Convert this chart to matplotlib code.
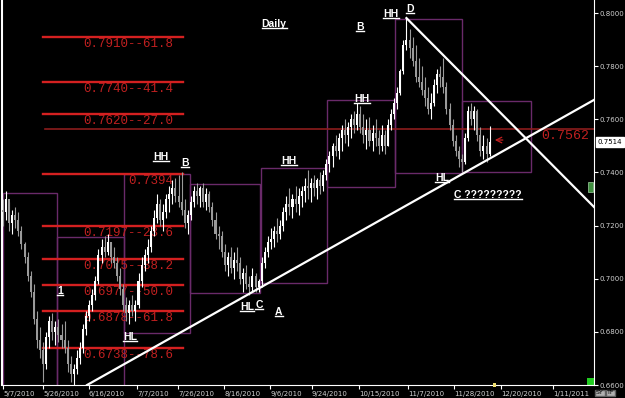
import matplotlib
matplotlib.use('Agg')
import matplotlib.pyplot as plt
from matplotlib.patches import Rectangle
from matplotlib.lines import Line2D
from matplotlib.transforms import IdentityTransform, blended_transform_factory

# ---------------- data (daily bars, index = trading day) ----------------
first_open = 0.7260
highs = [0.7300, 0.7330, 0.7290, 0.7260, 0.7270, 0.7250, 0.7200, 0.7140, 0.7100, 0.7030,
         0.6980, 0.6880, 0.6820, 0.6760, 0.6800, 0.6860, 0.6870, 0.6840, 0.6850, 0.6830,
         0.6840, 0.6770, 0.6710, 0.6680, 0.6730, 0.6760, 0.6830, 0.6880, 0.6920, 0.6960,
         0.7010, 0.7110, 0.7150, 0.7160, 0.7170, 0.7140, 0.7120, 0.7080, 0.7040, 0.6980,
         0.6930, 0.6920, 0.6940, 0.6920, 0.7020, 0.7080, 0.7110, 0.7150, 0.7200, 0.7260,
         0.7320, 0.7300, 0.7280, 0.7320, 0.7350, 0.7370, 0.7380, 0.7390, 0.7400, 0.7300,
         0.7260, 0.7310, 0.7350, 0.7360, 0.7350, 0.7360, 0.7340, 0.7330, 0.7290, 0.7250,
         0.7200, 0.7180, 0.7130, 0.7100, 0.7120, 0.7100, 0.7120, 0.7080, 0.7040, 0.7050,
         0.7010, 0.7040, 0.7020, 0.7000, 0.7080, 0.7120, 0.7160, 0.7190, 0.7200, 0.7230,
         0.7220, 0.7270, 0.7310, 0.7340, 0.7320, 0.7350, 0.7340, 0.7350, 0.7380, 0.7410,
         0.7380, 0.7390, 0.7380, 0.7400, 0.7410, 0.7450, 0.7480, 0.7510, 0.7540, 0.7550,
         0.7580, 0.7600, 0.7590, 0.7620, 0.7630, 0.7660, 0.7650, 0.7620, 0.7600, 0.7610,
         0.7580, 0.7600, 0.7560, 0.7580, 0.7560, 0.7600, 0.7640, 0.7680, 0.7720, 0.7790,
         0.7900, 0.7981, 0.7940, 0.7910, 0.7880, 0.7830, 0.7800, 0.7760, 0.7720, 0.7700,
         0.7750, 0.7790, 0.7800, 0.7830, 0.7740, 0.7660, 0.7600, 0.7540, 0.7500, 0.7470,
         0.7550, 0.7650, 0.7660, 0.7650, 0.7640, 0.7570, 0.7540, 0.7530, 0.7575]
lows = [0.7200, 0.7220, 0.7180, 0.7170, 0.7190, 0.7160, 0.7110, 0.7060, 0.6990, 0.6930,
        0.6830, 0.6740, 0.6700, 0.6610, 0.6660, 0.6740, 0.6770, 0.6750, 0.6760, 0.6740,
        0.6720, 0.6650, 0.6610, 0.6600, 0.6640, 0.6680, 0.6720, 0.6790, 0.6840, 0.6880,
        0.6920, 0.6980, 0.7060, 0.7080, 0.7090, 0.7060, 0.7040, 0.6990, 0.6940, 0.6880,
        0.6840, 0.6830, 0.6860, 0.6840, 0.6890, 0.6970, 0.7030, 0.7060, 0.7100, 0.7160,
        0.7210, 0.7200, 0.7180, 0.7230, 0.7250, 0.7280, 0.7290, 0.7270, 0.7240, 0.7190,
        0.7170, 0.7220, 0.7270, 0.7280, 0.7270, 0.7270, 0.7260, 0.7250, 0.7200, 0.7150,
        0.7110, 0.7080, 0.7030, 0.7010, 0.7020, 0.7000, 0.7030, 0.6980, 0.6950, 0.6960,
        0.6940, 0.6950, 0.6950, 0.6950, 0.6970, 0.7040, 0.7080, 0.7110, 0.7120, 0.7140,
        0.7150, 0.7180, 0.7220, 0.7240, 0.7230, 0.7250, 0.7240, 0.7270, 0.7290, 0.7300,
        0.7290, 0.7310, 0.7300, 0.7320, 0.7330, 0.7370, 0.7400, 0.7420, 0.7460, 0.7450,
        0.7480, 0.7510, 0.7500, 0.7530, 0.7550, 0.7560, 0.7550, 0.7510, 0.7490, 0.7500,
        0.7480, 0.7500, 0.7470, 0.7480, 0.7470, 0.7500, 0.7560, 0.7600, 0.7640, 0.7690,
        0.7770, 0.7860, 0.7830, 0.7800, 0.7740, 0.7720, 0.7690, 0.7650, 0.7620, 0.7600,
        0.7650, 0.7700, 0.7720, 0.7700, 0.7620, 0.7560, 0.7500, 0.7460, 0.7420, 0.7402,
        0.7430, 0.7520, 0.7580, 0.7560, 0.7520, 0.7460, 0.7450, 0.7440, 0.7460]
closes = [0.7250, 0.7300, 0.7210, 0.7240, 0.7220, 0.7180, 0.7130, 0.7080, 0.7010, 0.6950,
          0.6850, 0.6770, 0.6730, 0.6680, 0.6780, 0.6840, 0.6800, 0.6820, 0.6790, 0.6770,
          0.6740, 0.6680, 0.6640, 0.6660, 0.6700, 0.6740, 0.6810, 0.6860, 0.6900, 0.6940,
          0.6990, 0.7090, 0.7120, 0.7100, 0.7140, 0.7080, 0.7060, 0.7010, 0.6960, 0.6900,
          0.6870, 0.6900, 0.6880, 0.6900, 0.6990, 0.7050, 0.7090, 0.7120, 0.7180, 0.7230,
          0.7280, 0.7220, 0.7250, 0.7300, 0.7320, 0.7340, 0.7310, 0.7290, 0.7260, 0.7210,
          0.7240, 0.7290, 0.7330, 0.7310, 0.7340, 0.7290, 0.7320, 0.7270, 0.7220, 0.7170,
          0.7160, 0.7100, 0.7050, 0.7080, 0.7040, 0.7070, 0.7060, 0.7000, 0.7020, 0.6980,
          0.6970, 0.7010, 0.6970, 0.6990, 0.7060, 0.7100, 0.7140, 0.7150, 0.7180, 0.7170,
          0.7200, 0.7250, 0.7280, 0.7270, 0.7300, 0.7280, 0.7310, 0.7330, 0.7350, 0.7340,
          0.7360, 0.7340, 0.7370, 0.7350, 0.7390, 0.7430, 0.7460, 0.7500, 0.7480, 0.7530,
          0.7560, 0.7540, 0.7570, 0.7600, 0.7580, 0.7620, 0.7570, 0.7540, 0.7560, 0.7520,
          0.7550, 0.7530, 0.7500, 0.7540, 0.7500, 0.7580, 0.7620, 0.7660, 0.7700, 0.7780,
          0.7880, 0.7900, 0.7870, 0.7820, 0.7760, 0.7740, 0.7710, 0.7680, 0.7640, 0.7660,
          0.7730, 0.7770, 0.7760, 0.7720, 0.7640, 0.7580, 0.7520, 0.7480, 0.7450, 0.7440,
          0.7530, 0.7630, 0.7600, 0.7630, 0.7540, 0.7480, 0.7500, 0.7470, 0.7514]
last_price = 0.7514

tick_pos = [0, 13, 27.9, 43.5, 56.8, 71.8, 86.7, 100.3, 115.6, 131.5, 146.4, 161.7, 178.6]
tick_labels = ['5/7/2010', '5/26/2010', '6/16/2010', '7/7/2010', '7/26/2010', '8/16/2010',
               '9/6/2010', '9/24/2010', '10/15/2010', '11/7/2010', '11/28/2010',
               '12/20/2010', '1/11/2011']
y_ticks = [0.66, 0.68, 0.70, 0.72, 0.74, 0.76, 0.78, 0.80]

fib_levels = [0.7910, 0.7740, 0.7620, 0.7394, 0.7197, 0.7075, 0.6977, 0.6878, 0.6738]
fib_labels = ['0.7910--61.8', '0.7740--41.4', '0.7620--27.0', '0.7394', '0.7197--23.6',
              '0.7075--38.2', '0.6977--50.0', '0.6878--61.8', '0.6738--78.6']
key_level = 0.7562

# range boxes: (start idx, end idx, low, high)
box_start = [0.0, 17.5, 39.3, 60.7, 83.8, 105.2, 127.3, 149.0]
box_end = [17.5, 39.3, 60.7, 83.4, 105.2, 127.3, 149.0, 171.4]
box_low = [0.6595, 0.6595, 0.6796, 0.6946, 0.6984, 0.7345, 0.7398, 0.7402]
box_high = [0.7323, 0.7157, 0.7394, 0.7357, 0.7417, 0.7673, 0.7978, 0.7669]

# trend lines (idx, price) anchors
up_x = [27.3, 191.9]
up_y = [0.6600, 0.7673]
down_x = [131.0, 191.9]
down_y = [0.7981, 0.7270]

notes = [('Daily', 88.0, 0.7959), ('B', 115.9, 0.7948), ('HH', 126.0, 0.7996),
         ('D', 132.1, 0.8015), ('HH', 116.6, 0.7677), ('HH', 51.3, 0.7458),
         ('B', 59.1, 0.7436), ('HH', 92.9, 0.7443), ('HL', 142.5, 0.7379),
         ('C ?????????', 157.5, 0.7315), ('1', 18.5, 0.6954), ('HL', 41.2, 0.6781),
         ('HL', 79.2, 0.6894), ('C', 83.1, 0.6901), ('A', 89.6, 0.6875)]

# ---------------- figure ----------------
fig = plt.figure(figsize=(6.25, 3.98), dpi=100, facecolor='black')
ax = fig.add_axes([2 / 625, 13 / 398, 592 / 625, 385 / 398])
ax.set_facecolor('black')
ax.set_xlim(-0.325, 191.9)
ax.set_ylim(0.66, 0.8049)

# boxes
for x0, x1, lo, hi in zip(box_start, box_end, box_low, box_high):
    ax.add_patch(Rectangle((x0, lo), x1 - x0, hi - lo, fill=False,
                           edgecolor='#6a2a6a', lw=1.0, zorder=1))

# fib lines
for lvl, lab in zip(fib_levels, fib_labels):
    ax.plot([13.0, 58.4], [lvl, lvl], color='#d42020', lw=1.7, zorder=2)
    ax.text(55.2, lvl - 0.0004, lab, color='#c02020', fontsize=9,
            family='Liberation Mono', ha='right', va='top', zorder=2)

# key level
ax.plot([13.6, 191.9], [key_level, key_level], color='#8c1c1c', lw=1.2, zorder=2)
ax.text(190.5, key_level - 0.0003, f'{key_level:.4f}', color='#c02020', fontsize=9.5,
        family='Liberation Mono', ha='right', va='top', zorder=2)

# candles
opens = [first_open] + closes[:-1]
for i, (o, h, l, c) in enumerate(zip(opens, highs, lows, closes)):
    col = '#ffffff' if c >= o else '#9a9a9a'
    ax.vlines(i, l, h, color=col, lw=0.8, zorder=3)
    bot = min(o, c)
    ax.add_patch(Rectangle((i - 0.33, bot), 0.66, max(abs(c - o), 0.0002),
                           facecolor=col, edgecolor='none', zorder=3))

# trend lines
ax.plot(up_x, up_y, color='white', lw=1.6, zorder=4)
ax.plot(down_x, down_y, color='white', lw=1.6, zorder=4)

# red arrow
ax.annotate('', xy=(158.8, 0.7522), xytext=(163.2, 0.7522),
            arrowprops=dict(arrowstyle='->', color='#c02020', lw=0.9), zorder=5)

# notes
texts = []
for s, x, y in notes:
    texts.append(ax.text(x, y, s, color='white', fontsize=7.5, fontweight='bold',
                         family='Liberation Sans', ha='center', va='center', zorder=6))

# axes styling
ax.spines['top'].set_visible(False)
ax.spines['right'].set_color('white')
ax.spines['bottom'].set_color('white')
ax.spines['left'].set_color('white')
ax.spines['left'].set_linewidth(1.5)

ax.yaxis.tick_right()
ax.set_yticks(y_ticks)
ax.set_yticklabels([f'{v:.4f}' for v in y_ticks])
ax.tick_params(axis='y', colors='white', labelcolor='#d0d0d0', labelsize=5,
               length=3, pad=1)
ax.set_xticks(tick_pos)
ax.set_xticklabels(tick_labels)
ax.tick_params(axis='x', colors='white', labelcolor='#d0d0d0', labelsize=5,
               length=3, pad=1)
for t in ax.get_xticklabels():
    t.set_ha('left')

# last price box
bt = blended_transform_factory(ax.transAxes, ax.transData)
ax.text(1.006, last_price, f'{last_price:.4f}', transform=bt, color='black', fontsize=5,
        va='center', ha='left', clip_on=False,
        bbox=dict(facecolor='white', edgecolor='white', pad=1.2), zorder=7)

# small indicators
ax.add_patch(Rectangle((0.988, 0.0), 0.012, 0.018, transform=ax.transAxes,
                       facecolor='#22cc22', edgecolor='none', clip_on=False))
ax.add_patch(Rectangle((0.990, 0.502), 0.009, 0.024, transform=ax.transAxes,
                       facecolor='#3f8f3f', edgecolor='#a0d0a0', lw=0.5, clip_on=False))
ax.add_patch(Rectangle((0.829, -0.005), 0.006, 0.01, transform=ax.transAxes,
                       facecolor='#f0e070', edgecolor='none', clip_on=False, zorder=8))
fig.text(596 / 625, 1 - 393 / 398, 'SY', fontsize=4.5, color='black', va='center',
         bbox=dict(facecolor='#b0b0b0', edgecolor='#606060', pad=0.6))
fig.text(607 / 625, 1 - 393 / 398, 'TF', fontsize=4.5, color='black', va='center',
         bbox=dict(facecolor='#b0b0b0', edgecolor='#606060', pad=0.6))

# underline notes
fig.canvas.draw()
r = fig.canvas.get_renderer()
for t in texts:
    bb = t.get_window_extent(r)
    fig.add_artist(Line2D([bb.x0, bb.x1], [bb.y0 + 0.8, bb.y0 + 0.8],
                          transform=IdentityTransform(), color='white', lw=1.0))

fig.savefig('out.png', dpi=100, facecolor='black')
